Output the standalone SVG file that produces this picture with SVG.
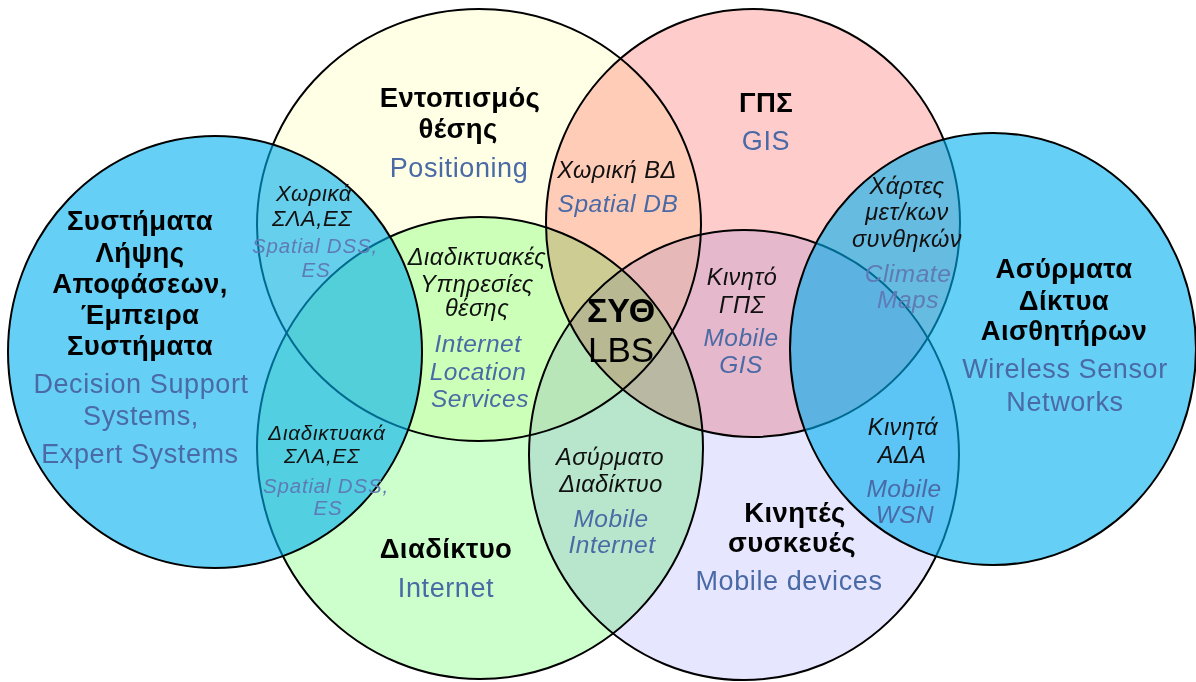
<svg xmlns="http://www.w3.org/2000/svg" width="1196" height="682" viewBox="0 0 1196 682">
  <style>
    text { font-family: "Liberation Sans", Arial, sans-serif; text-anchor: middle; }
    .set { mix-blend-mode: multiply; }
    .ring { stroke: #000; stroke-width: 2; }
    .wash { fill: #00afee; fill-opacity: 0.6; stroke: #000; stroke-width: 2; }
    .title { font-size: 27.5px; font-weight: bold; fill: #000; letter-spacing: 0.4px; }
    .en { font-size: 27px; fill: #4a6aa6; letter-spacing: 0.6px; }
    .gr { font-size: 23.5px; font-style: italic; fill: #111; letter-spacing: 0.5px; }
    .eni { font-size: 24.5px; font-style: italic; fill: #4a6aa6; letter-spacing: 0.5px; }
    .mid { font-size: 22px; letter-spacing: 0.6px; }
    .small { font-size: 20.5px; letter-spacing: 0.8px; }
    .faded { fill: #5f7bb5; }
    .core { font-size: 34px; font-weight: bold; fill: #000; }
    .core2 { font-size: 35px; fill: #000; }
  </style>

  <rect width="1196" height="682" fill="#fff"/>

  <!-- pastel sets, multiplied so that overlaps darken -->
  <g id="set-positioning" class="set">
    <ellipse class="ring" cx="479" cy="225" rx="222" ry="216" fill="#ffffe6"/>
    <text class="title" x="460" y="107">Εντοπισμός</text>
    <text class="title" x="458" y="138">θέσης</text>
    <text class="en" x="459" y="177">Positioning</text>
  </g>

  <g id="set-gis" class="set">
    <ellipse class="ring" cx="753" cy="223" rx="207" ry="214" fill="#ffcccc"/>
    <text class="title" x="766" y="112">ΓΠΣ</text>
    <text class="en" x="766" y="150">GIS</text>
  </g>

  <g id="set-internet" class="set">
    <ellipse class="ring" cx="480" cy="448" rx="223" ry="231" fill="#ccffcc"/>
    <text class="title" x="446" y="558">Διαδίκτυο</text>
    <text class="en" x="446" y="597">Internet</text>
  </g>

  <g id="set-mobile" class="set">
    <ellipse class="ring" cx="744" cy="455" rx="215" ry="225" fill="#e6e6ff"/>
    <text class="title" x="795" y="522">Κινητές</text>
    <text class="title" x="792" y="552">συσκευές</text>
    <text class="en" x="789" y="590">Mobile devices</text>
  </g>

  <!-- translucent blue sets laid over the rest -->
  <g id="set-dss">
    <ellipse class="wash" cx="215" cy="352" rx="207" ry="216"/>
    <text class="title" x="140" y="230">Συστήματα</text>
    <text class="title" x="140" y="262">Λήψης</text>
    <text class="title" x="140" y="293">Αποφάσεων,</text>
    <text class="title" x="140" y="324">Έμπειρα</text>
    <text class="title" x="140" y="355">Συστήματα</text>
    <text class="en" x="141" y="393">Decision Support</text>
    <text class="en" x="141" y="425">Systems,</text>
    <text class="en" x="140" y="463">Expert Systems</text>
  </g>

  <g id="set-wsn">
    <ellipse class="wash" cx="993" cy="349" rx="203" ry="216"/>
    <text class="title" x="1064" y="278">Ασύρματα</text>
    <text class="title" x="1064" y="310">Δίκτυα</text>
    <text class="title" x="1064" y="340">Αισθητήρων</text>
    <text class="en" x="1065" y="378">Wireless Sensor</text>
    <text class="en" x="1065" y="411">Networks</text>
  </g>

  <!-- labels of the overlapping regions -->
  <g id="overlaps">
    <g id="spatial-dss">
      <text class="gr mid" x="314" y="201">Χωρικά</text>
      <text class="gr mid" x="312" y="226">ΣΛΑ,ΕΣ</text>
      <text class="eni small faded" x="315" y="253">Spatial DSS,</text>
      <text class="eni small faded" x="316" y="277">ES</text>
    </g>
    <g id="internet-dss">
      <text class="gr small" x="327" y="440">Διαδικτυακά</text>
      <text class="gr small" x="322" y="463">ΣΛΑ,ΕΣ</text>
      <text class="eni small faded" x="326" y="493">Spatial DSS,</text>
      <text class="eni small faded" x="328" y="515">ES</text>
    </g>
    <g id="ils">
      <text class="gr" x="477" y="265">Διαδικτυακές</text>
      <text class="gr" x="477" y="292">Υπηρεσίες</text>
      <text class="gr" x="477" y="316">θέσης</text>
      <text class="eni" x="478" y="352">Internet</text>
      <text class="eni" x="478" y="380">Location</text>
      <text class="eni" x="480" y="407">Services</text>
    </g>
    <g id="spatial-db">
      <text class="gr" x="617" y="178">Χωρική ΒΔ</text>
      <text class="eni" x="618" y="212">Spatial DB</text>
    </g>
    <g id="lbs">
      <text class="core" x="621" y="322">ΣΥΘ</text>
      <text class="core2" x="621" y="362">LBS</text>
    </g>
    <g id="mobile-gis">
      <text class="gr" x="742" y="285">Κινητό</text>
      <text class="gr" x="742" y="313">ΓΠΣ</text>
      <text class="eni" x="741" y="346">Mobile</text>
      <text class="eni" x="741" y="373">GIS</text>
    </g>
    <g id="climate-maps">
      <text class="gr" x="907" y="194">Χάρτες</text>
      <text class="gr" x="907" y="220">μετ/κων</text>
      <text class="gr" x="907" y="247">συνθηκών</text>
      <text class="eni faded" x="908" y="282">Climate</text>
      <text class="eni faded" x="908" y="308">Maps</text>
    </g>
    <g id="mobile-wsn">
      <text class="gr" x="903" y="435">Κινητά</text>
      <text class="gr" x="902" y="463">ΑΔΑ</text>
      <text class="eni" x="904" y="497">Mobile</text>
      <text class="eni" x="905" y="523">WSN</text>
    </g>
    <g id="mobile-internet">
      <text class="gr" x="610" y="465">Ασύρματο</text>
      <text class="gr" x="611" y="492">Διαδίκτυο</text>
      <text class="eni" x="611" y="527">Mobile</text>
      <text class="eni" x="612" y="553">Internet</text>
    </g>
  </g>
</svg>
